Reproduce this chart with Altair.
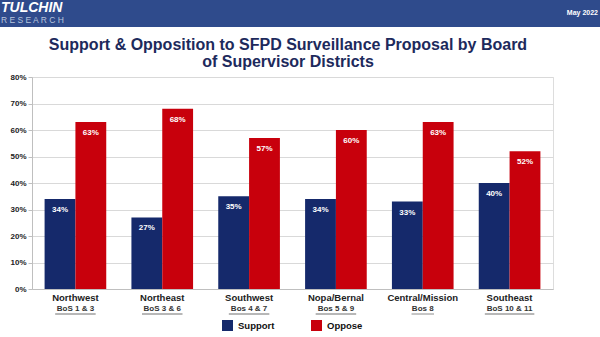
import altair as alt
import pandas as pd

districts = ["Northwest", "Northeast", "Southwest", "Nopa/Bernal", "Central/Mission", "Southeast"]
sublabels = ["BoS 1 & 3", "BoS 3 & 6", "Bos 4 & 7", "Bos 5 & 9", "Bos 8", "BoS 10 & 11"]
support = [34, 27, 35, 34, 33, 40]
oppose = [63, 68, 57, 60, 63, 52]
series = ["Support", "Oppose"]
colors = ["#15296b", "#c8000c"]
y_ticks = [0, 0.1, 0.2, 0.3, 0.4, 0.5, 0.6, 0.7, 0.8]
title_lines = ["Support & Opposition to SFPD Surveillance Proposal by Board",
               "of Supervisor Districts"]

FONT = "Liberation Sans"

rows = []
for d, s, o in zip(districts, support, oppose):
    rows.append({"district": d, "series": "Support", "value": s / 100})
    rows.append({"district": d, "series": "Oppose", "value": o / 100})
df = pd.DataFrame(rows)
lab = pd.DataFrame({"district": districts, "sub": sublabels})
lab["uw"] = lab["sub"].str.len() * 4.5
one = pd.DataFrame({"a": [0]})

x_enc = alt.X("district:N", sort=districts,
              scale=alt.Scale(paddingInner=0.29, paddingOuter=0.145),
              axis=alt.Axis(labels=False, ticks=False, title=None,
                            domainColor="#bfbfbf", grid=False))
y_enc = alt.Y("value:Q", scale=alt.Scale(domain=[0, 0.8]),
              axis=alt.Axis(format=".0%", values=y_ticks, title=None,
                            labelFont=FONT, labelFontSize=8, labelFontWeight="bold",
                            labelColor="#222222", gridColor="#d9d9d9",
                            domainColor="#bfbfbf", tickColor="#bfbfbf",
                            tickSize=4, labelPadding=2, labelOverlap=False))
xoff = alt.XOffset("series:N", sort=series,
                   scale=alt.Scale(paddingInner=0, paddingOuter=0))

base = alt.Chart(df)

bars = base.mark_bar().encode(
    x=x_enc, y=y_enc, xOffset=xoff,
    color=alt.Color("series:N", sort=series,
                    scale=alt.Scale(domain=series, range=colors),
                    legend=alt.Legend(title=None, orient="none", legendX=190, legendY=243,
                                      direction="horizontal", symbolType="square",
                                      symbolSize=121, symbolStrokeWidth=0,
                                      labelFont=FONT, labelFontSize=9.5,
                                      labelFontWeight="bold", labelColor="#111111",
                                      labelOffset=5, columnPadding=36, padding=0)),
)

values = base.mark_text(baseline="top", dy=7, color="white", fontWeight="bold",
                        fontSize=8, font=FONT).encode(
    x=x_enc, y=y_enc, xOffset=xoff,
    text=alt.Text("value:Q", format=".0%"),
)

cat1 = alt.Chart(lab).mark_text(fontSize=9.5, fontWeight="bold", color="#222222",
                                font=FONT, baseline="middle").encode(
    x=x_enc, y=alt.value(221), text="district:N")
cat2 = alt.Chart(lab).mark_text(fontSize=8, fontWeight="bold", color="#333333",
                                font=FONT, baseline="middle").encode(
    x=x_enc, y=alt.value(232), text="sub:N")
underline = alt.Chart(lab).mark_tick(orient="horizontal", thickness=0.8,
                                     color="#333333").encode(
    x=x_enc, y=alt.value(237), size=alt.Size("uw:Q", scale=None, legend=None))

band = alt.Chart(one).mark_rect(color="#2f4b8c").encode(
    x=alt.value(-32), x2=alt.value(568), y=alt.value(-77), y2=alt.value(-50))
logo1 = alt.Chart(one).mark_text(text="TULCHIN", align="left", baseline="middle",
                                 fontSize=14, fontWeight="bold", fontStyle="italic",
                                 color="white", font=FONT).encode(
    x=alt.value(-31), y=alt.value(-69))
logo2 = alt.Chart(one).mark_text(text="R E S E A R C H", align="left", baseline="middle",
                                 fontSize=8.5, color="#b8c4dc", font=FONT).encode(
    x=alt.value(-31), y=alt.value(-57))
date = alt.Chart(one).mark_text(text="May 2022", align="right", baseline="middle",
                                fontSize=7, fontWeight="bold", color="white",
                                font=FONT).encode(
    x=alt.value(566), y=alt.value(-64))
t1 = alt.Chart(one).mark_text(text=title_lines[0], align="center", baseline="middle",
                              fontSize=16, fontWeight="bold", color="#1d2a5c",
                              font=FONT).encode(x=alt.value(256), y=alt.value(-32))
t2 = alt.Chart(one).mark_text(text=title_lines[1], align="center", baseline="middle",
                              fontSize=16, fontWeight="bold", color="#1d2a5c",
                              font=FONT).encode(x=alt.value(256), y=alt.value(-15))

chart = alt.layer(band, logo1, logo2, date, t1, t2, bars, values, cat1, cat2,
                  underline).properties(
    width=521, height=212,
    autosize="none",
    padding={"left": 32, "top": 77, "right": 47, "bottom": 48},
).configure_view(stroke=None).configure(font=FONT)

chart.save("out.html", embed_options={"renderer": "svg", "actions": False})
